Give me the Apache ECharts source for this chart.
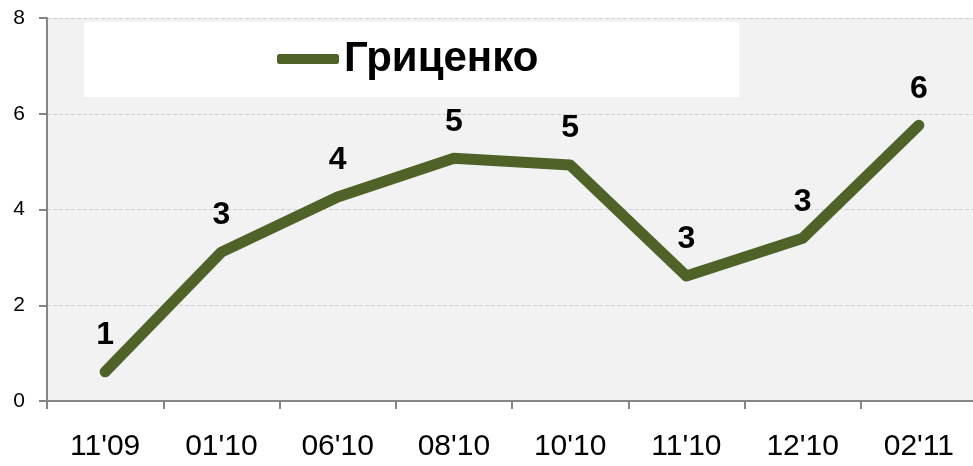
<!DOCTYPE html>
<html>
<head>
<meta charset="utf-8">
<script src="https://cdn.jsdelivr.net/npm/echarts@6/dist/echarts.min.js"></script>
<style>
  html, body { margin: 0; padding: 0; background: #fff; overflow: hidden; }
  #main { width: 977px; height: 466px; }
</style>
</head>
<body>
<div id="main"></div>
<script>
const months = ["11'09", "01'10", "06'10", "08'10", "10'10", "11'10", "12'10", "02'11"];
const grytsenko = [0.61, 3.11, 4.26, 5.07, 4.93, 2.61, 3.40, 5.76];
const yTicks = [0, 2, 4, 6, 8];

// the plot area runs a few pixels past the right edge of the window
const chart = echarts.init(document.getElementById('main'));

const option = {
  animation: false,
  textStyle: { fontFamily: 'Liberation Sans, Arial, sans-serif' },
  grid: {
    left: 47,
    right: 0,
    top: 18,
    bottom: 65,
    show: true,
    backgroundColor: '#f2f2f2',
    borderWidth: 0
  },
  legend: {
    left: 84,
    top: 22,
    padding: [16, 201, 17, 193],
    backgroundColor: '#ffffff',
    icon: 'roundRect',
    itemWidth: 62,
    itemHeight: 10,
    itemGap: 3,
    textStyle: {
      fontSize: 42,
      fontWeight: 'bold',
      color: '#000',
      fontFamily: 'Liberation Sans, Arial, sans-serif'
    },
    data: ['Гриценко']
  },
  xAxis: {
    type: 'category',
    data: months,
    boundaryGap: true,
    axisLine: { lineStyle: { color: '#868686', width: 2 } },
    axisTick: { show: true, length: 8, lineStyle: { color: '#868686', width: 2 } },
    axisLabel: { fontSize: 30, color: '#000', margin: 31 }
  },
  yAxis: {
    type: 'value',
    min: yTicks[0],
    max: yTicks[yTicks.length - 1],
    interval: 2,
    axisLine: { show: true, lineStyle: { color: '#868686', width: 2 } },
    axisTick: { show: true, length: 8, lineStyle: { color: '#868686', width: 2 } },
    axisLabel: { fontSize: 21, color: '#000', margin: 22 },
    splitLine: { lineStyle: { color: '#d0d0d0', type: 'dashed', width: 1 } }
  },
  series: [{
    name: 'Гриценко',
    type: 'line',
    data: grytsenko,
    symbol: 'circle',
    symbolSize: 1,
    showSymbol: true,
    itemStyle: { color: '#4f6228' },
    lineStyle: { color: '#4f6228', width: 11, cap: 'round', join: 'round' },
    label: {
      show: true,
      position: 'top',
      distance: 20,
      fontSize: 32,
      fontWeight: 'bold',
      color: '#000',
      formatter: p => Math.round(p.value)
    }
  }]
};

chart.setOption(option);
</script>
</body>
</html>
